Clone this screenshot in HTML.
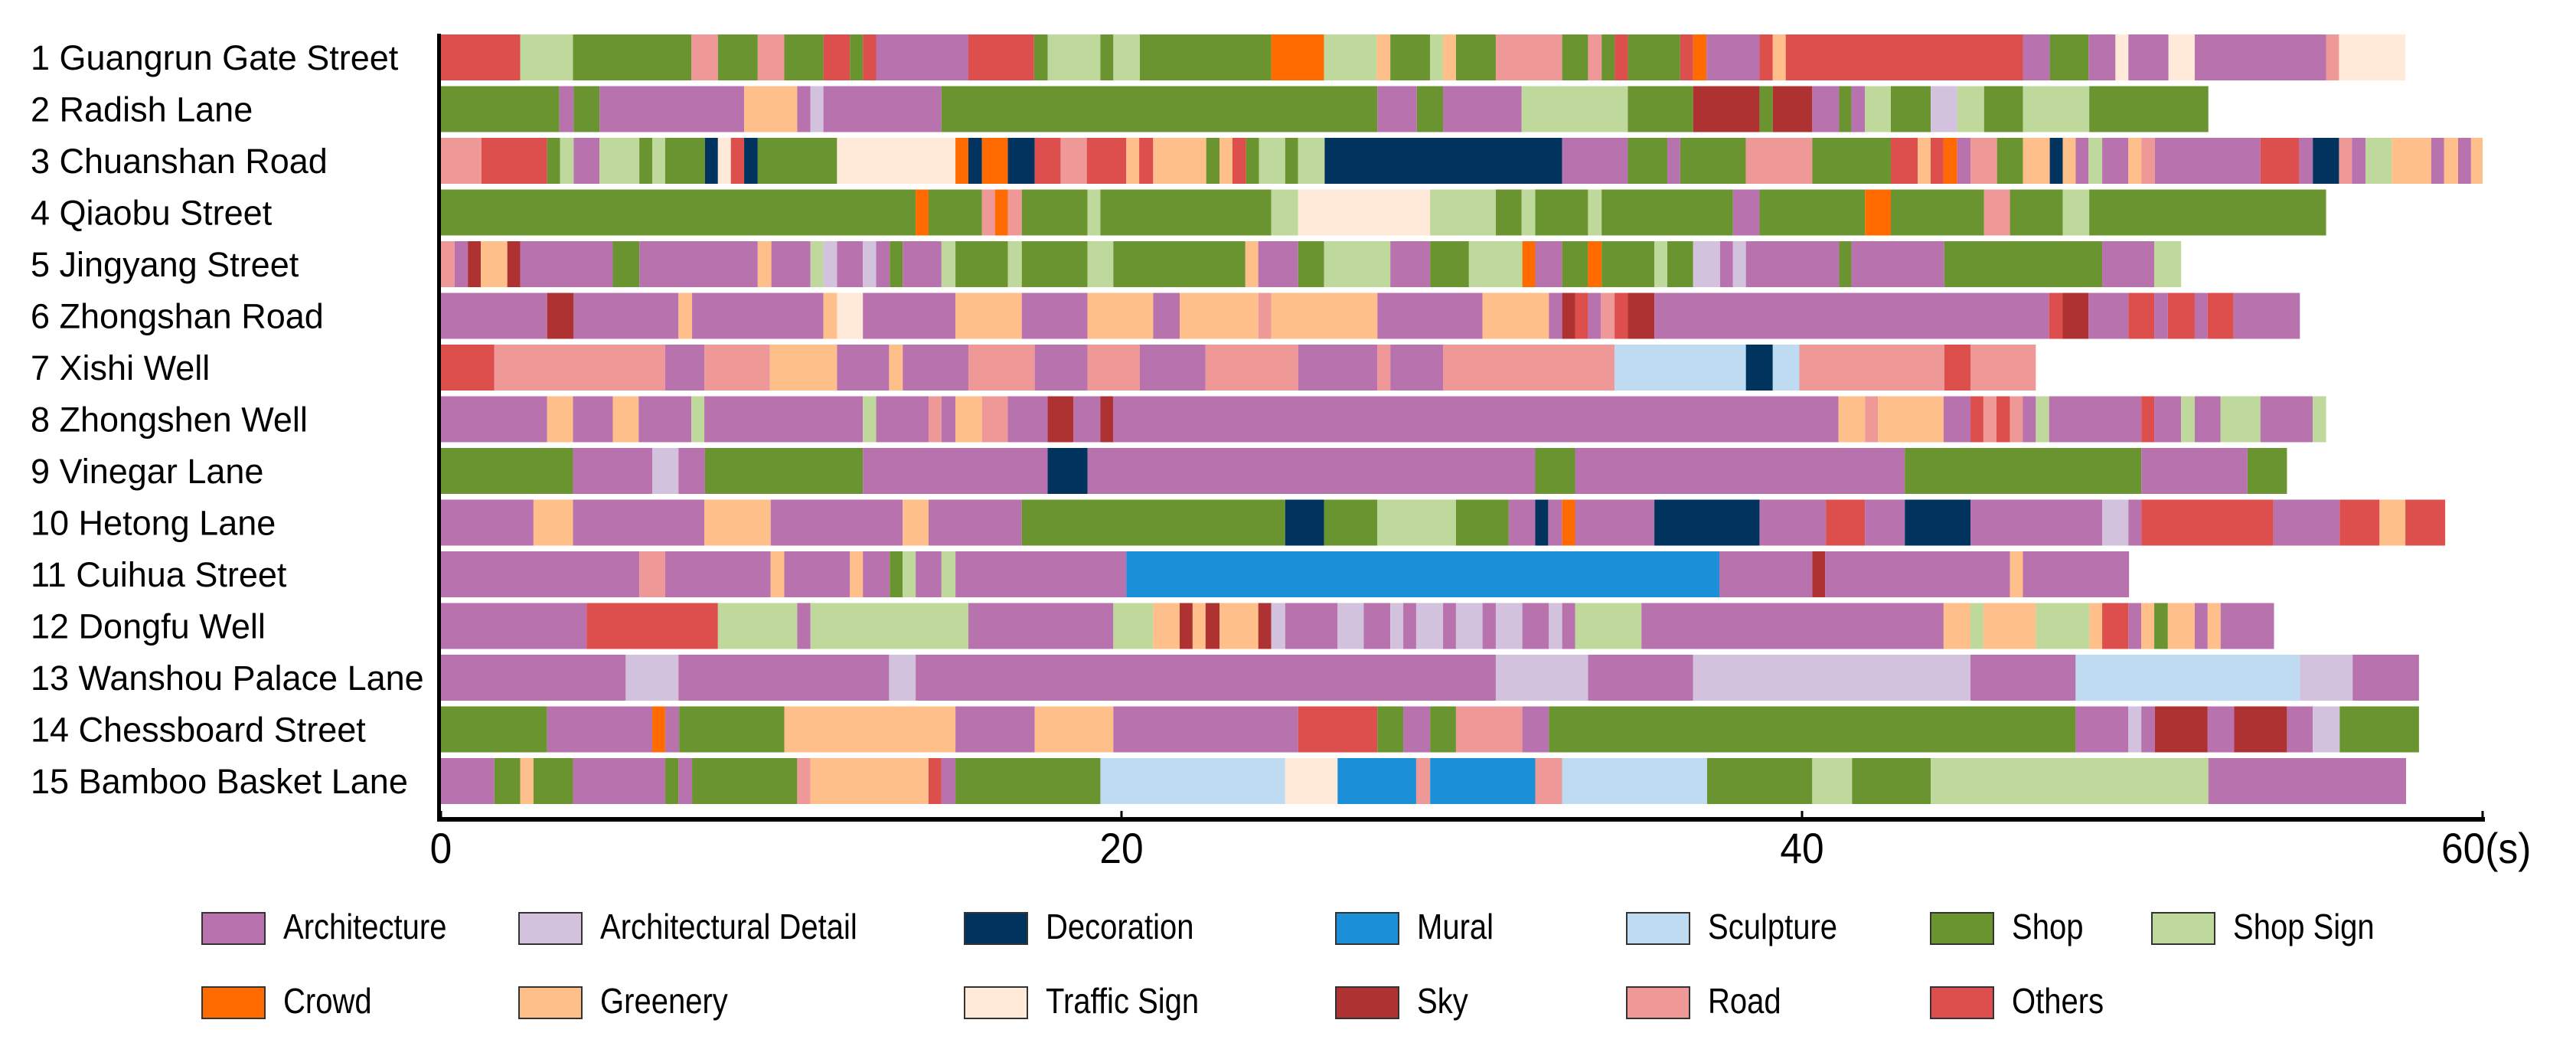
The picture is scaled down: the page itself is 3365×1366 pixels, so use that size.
<!DOCTYPE html>
<html><head><meta charset="utf-8">
<style>
html,body{margin:0;padding:0;background:#fff;}
svg{display:block;font-family:"Liberation Sans",Arial,sans-serif;}
</style></head>
<body>
<svg id="chart" width="3365" height="1366" viewBox="0 0 3365 1366" xmlns="http://www.w3.org/2000/svg">
<g id="bars"></g>
<g id="labels"></g>
<g id="axis"></g>
<g id="legend"></g>
</svg>
<script>
const catCodes = ["A","D","De","M","Sc","S","SS","C","G","T","K","R","O"];
const catNames = ["Architecture","Architectural Detail","Decoration","Mural","Sculpture","Shop","Shop Sign","Crowd","Greenery","Traffic Sign","Sky","Road","Others"];
const catColors = ["#b873ae","#d3c2dd","#00335e","#1c8fd9","#bfdbf2","#6a9430","#bfd89c","#ff6b00","#ffbf8a","#ffe9d8","#ae3232","#ef9898","#dc4f4d"];
const rowNames = ["1 Guangrun Gate Street","2 Radish Lane","3 Chuanshan Road","4 Qiaobu Street","5 Jingyang Street","6 Zhongshan Road","7 Xishi Well","8 Zhongshen Well","9 Vinegar Lane","10 Hetong Lane","11 Cuihua Street","12 Dongfu Well","13 Wanshou Palace Lane","14 Chessboard Street","15 Bamboo Basket Lane"];
const xTicks = [0,20,40,60];
const xTickLabels = ["0","20","40","60(s)"];

const r1 = [["O",2.33],["SS",3.88],["S",7.36],["R",8.14],["S",9.31],["R",10.09],["S",11.24],["O",12.02],["S",12.40],["O",12.79],["A",15.50],["O",17.43],["S",17.83],["SS",19.38],["S",19.76],["SS",20.54],["S",24.40],["C",25.95],["SS",27.50],["G",27.90],["S",29.07],["SS",29.45],["G",29.83],["S",31.0],["R",32.95],["S",33.71],["R",34.11],["S",34.49],["O",34.88],["S",36.42],["O",36.80],["C",37.19],["A",38.75],["O",39.14],["G",39.52],["O",46.49],["A",47.28],["S",48.42],["A",49.21],["T",49.59],["A",50.77],["T",51.54],["A",55.40],["R",55.78],["T",57.73]];
const r2 = [["S",3.48],["A",3.90],["S",4.66],["A",8.91],["G",10.47],["A",10.86],["D",11.24],["A",14.71],["S",27.52],["A",28.68],["S",29.45],["A",31.76],["SS",34.88],["S",36.80],["K",38.75],["S",39.14],["K",40.30],["A",41.09],["S",41.45],["A",41.85],["SS",42.61],["S",43.78],["D",44.56],["SS",45.35],["S",46.49],["SS",48.44],["S",51.94]];
const r3 = [["R",1.19],["O",3.12],["S",3.50],["SS",3.90],["A",4.66],["SS",5.83],["S",6.21],["SS",6.59],["S",7.76],["De",8.14],["T",8.52],["O",8.91],["De",9.31],["S",11.64],["T",15.12],["C",15.50],["De",15.90],["C",16.66],["De",17.45],["O",18.21],["R",18.98],["O",20.14],["G",20.52],["O",20.93],["G",22.49],["S",22.88],["G",23.26],["O",23.66],["S",24.04],["SS",24.81],["S",25.19],["SS",25.97],["De",32.95],["A",34.88],["S",36.04],["A",36.42],["S",38.35],["R",40.30],["S",42.61],["O",43.40],["G",43.78],["O",44.16],["C",44.56],["A",44.95],["R",45.73],["S",46.49],["G",47.28],["De",47.66],["G",48.04],["A",48.42],["SS",48.82],["A",49.59],["G",49.97],["R",50.37],["A",53.47],["O",54.61],["A",55.01],["De",55.78],["R",56.16],["A",56.56],["SS",57.33],["G",58.49],["A",58.87],["G",59.28],["A",59.66],["G",60.0]];
const r4 = [["S",13.95],["C",14.33],["S",15.90],["R",16.28],["C",16.66],["R",17.07],["S",19.00],["SS",19.38],["S",24.40],["SS",25.19],["T",29.07],["SS",31.0],["S",31.76],["SS",32.16],["S",33.71],["SS",34.11],["S",37.97],["A",38.75],["S",41.85],["C",42.61],["S",45.35],["R",46.11],["S",47.66],["SS",48.44],["S",55.40]];
const r5 = [["R",0.40],["A",0.79],["K",1.17],["G",1.95],["K",2.33],["A",5.05],["S",5.83],["A",9.31],["G",9.71],["A",10.86],["SS",11.24],["D",11.64],["A",12.40],["D",12.79],["A",13.19],["S",13.57],["A",14.71],["SS",15.12],["S",16.66],["SS",17.07],["S",19.00],["SS",19.76],["S",23.64],["G",24.02],["A",25.19],["S",25.95],["SS",27.90],["A",29.07],["S",30.21],["SS",31.78],["C",32.16],["A",32.95],["S",33.71],["C",34.11],["S",35.66],["SS",36.04],["S",36.80],["D",37.59],["A",37.97],["D",38.35],["A",41.09],["S",41.45],["A",44.18],["S",48.82],["A",50.35],["SS",51.14]];
const r6 = [["A",3.12],["K",3.90],["A",6.98],["G",7.38],["A",11.24],["G",11.64],["T",12.40],["A",15.12],["G",17.07],["A",19.00],["G",20.93],["A",21.71],["G",24.02],["R",24.40],["G",27.52],["A",30.61],["G",32.56],["A",32.95],["K",33.33],["O",33.71],["A",34.09],["R",34.49],["O",34.88],["K",35.66],["A",47.26],["O",47.66],["K",48.42],["A",49.59],["O",50.35],["A",50.75],["O",51.54],["A",51.92],["O",52.68],["A",54.63]];
const r7 = [["O",1.57],["R",6.59],["A",7.74],["R",9.67],["G",11.64],["A",13.17],["G",13.57],["A",15.50],["R",17.45],["A",19.00],["R",20.54],["A",22.47],["R",25.19],["A",27.52],["R",27.90],["A",29.45],["R",34.49],["Sc",38.35],["De",39.14],["Sc",39.92],["R",44.18],["O",44.95],["R",46.87]];
const r8 = [["A",3.12],["G",3.88],["A",5.05],["G",5.81],["A",7.36],["SS",7.74],["A",12.40],["SS",12.79],["A",14.33],["R",14.71],["A",15.12],["G",15.90],["R",16.66],["A",17.83],["K",18.59],["A",19.38],["K",19.76],["A",41.07],["G",41.85],["R",42.23],["G",44.16],["A",44.95],["O",45.33],["R",45.71],["O",46.11],["R",46.49],["A",46.87],["SS",47.26],["A",49.97],["O",50.35],["A",51.14],["SS",51.54],["A",52.30],["SS",53.47],["A",55.01],["SS",55.40]];
const r9 = [["S",3.88],["A",6.21],["D",6.98],["A",7.76],["S",12.40],["A",17.83],["De",19.00],["A",32.16],["S",33.33],["A",43.02],["S",49.97],["A",53.09],["S",54.25]];
const r10 = [["A",2.72],["G",3.88],["A",7.74],["G",9.69],["A",13.57],["G",14.33],["A",17.07],["S",24.81],["De",25.95],["S",27.52],["SS",29.83],["S",31.38],["A",32.16],["De",32.54],["A",32.95],["C",33.33],["A",35.66],["De",38.75],["A",40.70],["O",41.85],["A",43.02],["De",44.95],["A",48.82],["D",49.59],["A",49.97],["O",53.85],["A",55.80],["O",56.97],["G",57.73],["O",58.90]];
const r11 = [["A",5.83],["R",6.59],["A",9.69],["G",10.09],["A",12.02],["G",12.40],["A",13.19],["S",13.57],["SS",13.95],["A",14.71],["SS",15.12],["A",20.14],["M",37.57],["A",40.30],["K",40.68],["A",46.11],["G",46.49],["A",49.61]];
const r12 = [["A",4.28],["O",8.14],["SS",10.47],["A",10.86],["SS",15.50],["A",19.76],["SS",20.93],["G",21.71],["K",22.09],["G",22.47],["K",22.88],["G",24.02],["K",24.40],["D",24.81],["A",26.35],["D",27.12],["A",27.90],["D",28.28],["A",28.66],["D",29.45],["A",29.83],["D",30.61],["A",31.00],["D",31.78],["A",32.56],["D",32.95],["A",33.33],["SS",35.28],["A",44.16],["G",44.95],["SS",45.33],["G",46.87],["SS",48.44],["G",48.82],["O",49.59],["A",49.97],["G",50.35],["S",50.75],["G",51.54],["A",51.92],["G",52.30],["A",53.87]];
const r13 = [["A",5.43],["D",6.98],["A",13.17],["D",13.95],["A",31.0],["D",33.71],["A",36.80],["D",44.95],["A",48.04],["Sc",54.63],["D",56.18],["A",58.13]];
const r14 = [["S",3.12],["A",6.21],["C",6.59],["A",7.00],["S",10.09],["G",15.12],["A",17.45],["G",19.76],["A",25.19],["O",27.52],["S",28.28],["A",29.07],["S",29.83],["R",31.78],["A",32.56],["S",48.04],["A",49.59],["D",49.97],["A",50.37],["K",51.92],["A",52.70],["K",54.25],["A",55.01],["D",55.80],["S",58.13]];
const r15 = [["A",1.57],["S",2.33],["G",2.72],["S",3.88],["A",6.59],["S",6.98],["A",7.38],["S",10.47],["R",10.86],["G",14.33],["O",14.71],["A",15.12],["S",19.38],["Sc",24.81],["T",26.35],["M",28.66],["R",29.07],["M",32.16],["R",32.95],["Sc",37.21],["S",40.30],["SS",41.47],["S",43.78],["SS",51.94],["A",57.75]];
const rows = [r1,r2,r3,r4,r5,r6,r7,r8,r9,r10,r11,r12,r13,r14,r15];

const NS = "http://www.w3.org/2000/svg";
const X0 = 576, PXS = 44.45;
const ROW_TOP = 45, ROW_STEP = 67.5, ROW_H = 60;
function xScale(t){ return X0 + t * PXS; }
function yRow(i){ return ROW_TOP + i * ROW_STEP; }
function mk(tag, attrs, parent){
  const e = document.createElementNS(NS, tag);
  for (const k in attrs) e.setAttribute(k, attrs[k]);
  parent.appendChild(e);
  return e;
}
const bars = document.getElementById('bars');
const labels = document.getElementById('labels');
const axis = document.getElementById('axis');
const legend = document.getElementById('legend');

rows.forEach((segs, i) => {
  let start = 0;
  const y = yRow(i);
  segs.forEach((s, j) => {
    const ci = catCodes.indexOf(s[0]);
    const x1 = xScale(start), x2 = xScale(s[1]);
    const r = mk('rect', {x: x1.toFixed(2), y: y, width: Math.max(0, x2 - x1).toFixed(2), height: ROW_H, fill: catColors[ci]}, bars);
    
    
    start = s[1];
  });
  const t = mk('text', {x: 40, y: y + ROW_H/2 + 16, 'font-size': 45, fill: '#000'}, labels);
  t.textContent = rowNames[i];
  
  
});

const axBottom = 1070;
const yAxis = mk('rect', {x: 571, y: 44, width: 5, height: axBottom - 44 + 3, fill: '#000'}, axis);


const xAxis = mk('rect', {x: 571, y: axBottom - 3, width: xScale(60) - 571 + 3, height: 6, fill: '#000'}, axis);


xTicks.forEach((v, k) => {
  const x = xScale(v);
  const tk = mk('rect', {x: x - 1.5, y: axBottom - 11, width: 3, height: 10, fill: '#000'}, axis);
  
  
  const last = k === xTicks.length - 1;
  const lx = last ? x - 54 : x;
  const lbl = mk('text', {x: 0, y: 0, 'font-size': 56, 'text-anchor': last ? 'start' : 'middle', fill: '#000',
    transform: 'translate(' + lx + ',1127) scale(0.92,1)'}, axis);
  lbl.textContent = xTickLabels[k];
  
  
});

const legX = [264, 678, 1260, 1745, 2125, 2522, 2811];
const legY = [1192, 1289];
catNames.forEach((n, i) => {
  const col = i % 7, row = Math.floor(i / 7);
  const g = mk('g', {}, legend);
  
  
  const sw = mk('rect', {x: legX[col], y: legY[row], width: 82, height: 41, fill: catColors[i], stroke: '#333', 'stroke-width': 2}, g);
  
  
  const tx = mk('text', {x: 0, y: 0, 'font-size': 46, fill: '#000',
    transform: 'translate(' + (legX[col] + 106) + ',' + (legY[row] + 34) + ') scale(0.87,1)'}, g);
  tx.textContent = n;
  
  
});
</script>
</body></html>
